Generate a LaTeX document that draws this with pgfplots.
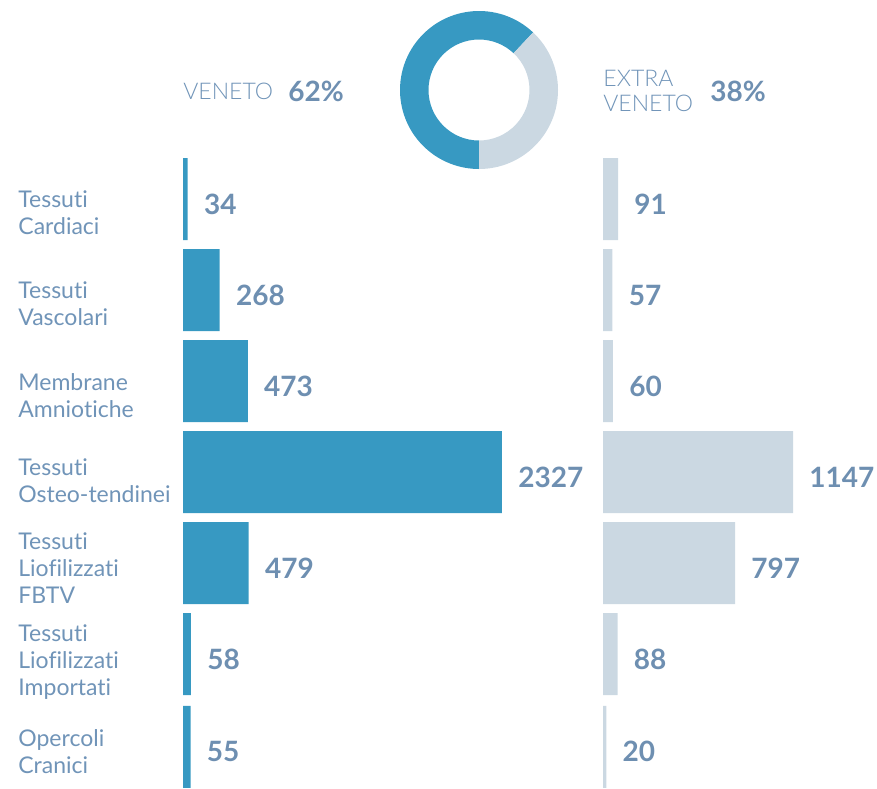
\documentclass[border=0pt]{standalone}
\usepackage{pgfplots}
\pgfplotsset{compat=1.18}
\usepackage{pgfplotstable}
\usepackage{fontspec}
\setmainfont{Lato}[Ligatures=NoCommon]
\newfontfamily\lightfont{Lato Light}[Ligatures=NoCommon]
\definecolor{vBlue}{HTML}{3799C2}
\definecolor{vGray}{HTML}{CBD8E2}
\definecolor{vText}{HTML}{7094B8}
\definecolor{vNum}{HTML}{6E8FB1}

% row index (top to bottom), count
\pgfplotstableread{
y val
0 34
1 268
2 473
3 2327
4 479
5 58
6.02 55
}\veneto
\pgfplotstableread{
y val
0 91
1 57
2 60
3 1147
4 797
5 88
6.02 20
}\extra

\pgfplotsset{panel/.style={scale only axis, anchor=north west, height=319pt,
    xmin=0, ymin=-0.5385, ymax=6.4725, y dir=reverse, clip=false,
    xbar, bar width=41pt, bar shift=0pt,
    nodes near coords, nodes near coords align=horizontal,
    every node near coord/.append style={anchor=west, inner sep=0pt, xshift=8pt, yshift=-2.5pt,
        font=\bfseries\fontsize{14}{16}\selectfont, text=vNum},
    /pgf/number format/assume math mode=true, /pgf/number format/1000 sep={}}}

\begin{document}
\begin{tikzpicture}
\begin{axis}[panel, at={(91.5pt,-75pt)}, width=208.5pt, xmax=3042,
    axis line style={draw=none}, major tick length=0pt, xtick=\empty,
    ytick={0.1,1.1,2.1,3.035,4,5.03,6.02},
    yticklabels={{Tessuti\\Cardiaci},{Tessuti\\Vascolari},{Membrane\\Amniotiche},
        {Tessuti\\Osteo-tendinei},{Tessuti\\Liofilizzati\\FBTV},
        {Tessuti\\Liofilizzati\\Importati},{Opercoli\\Cranici}},
    yticklabel style={anchor=west, xshift=-82.5pt, yshift=-2.5pt, align=left, inner sep=0pt,
        font=\fontsize{11.5}{13.5}\selectfont, text=vText}]
\addplot[fill=vBlue, draw=none] table[x=val, y=y] {\veneto};
\end{axis}
\begin{axis}[panel, at={(301.5pt,-75pt)}, width=137pt, xmax=1654, hide axis]
\addplot[fill=vGray, draw=none] table[x=val, y=y] {\extra};
\end{axis}

\pgfmathsetmacro\split{270-62*3.6}
\begin{scope}[shift={(239.5pt,-45pt)}, x=0.5pt, y=0.5pt]
\fill[vBlue] (\split:79) arc[start angle=\split, end angle=270, radius=79]
    -- (270:50.5) arc[start angle=270, end angle=\split, radius=50.5] -- cycle;
\fill[vGray] (-90:79) arc[start angle=-90, end angle=\split, radius=79]
    -- (\split:50.5) arc[start angle=\split, end angle=-90, radius=50.5] -- cycle;
\end{scope}

\begin{scope}[x=0.5pt, y=-0.5pt]
\node[anchor=west, inner sep=0pt, text=vText, font=\lightfont\fontsize{11.5}{12.5}\selectfont] at (183,91) {VENETO};
\node[anchor=west, inner sep=0pt, text=vNum, font=\bfseries\fontsize{14}{16}\selectfont] at (288,91) {62\%};
\node[anchor=west, inner sep=0pt, align=left, text=vText, font=\lightfont\fontsize{11.5}{12.5}\selectfont] at (603,91) {EXTRA\\VENETO};
\node[anchor=west, inner sep=0pt, text=vNum, font=\bfseries\fontsize{14}{16}\selectfont] at (710,91) {38\%};
\pgfresetboundingbox
\path[use as bounding box] (0,0) rectangle (877,788);
\end{scope}
\end{tikzpicture}
\end{document}
